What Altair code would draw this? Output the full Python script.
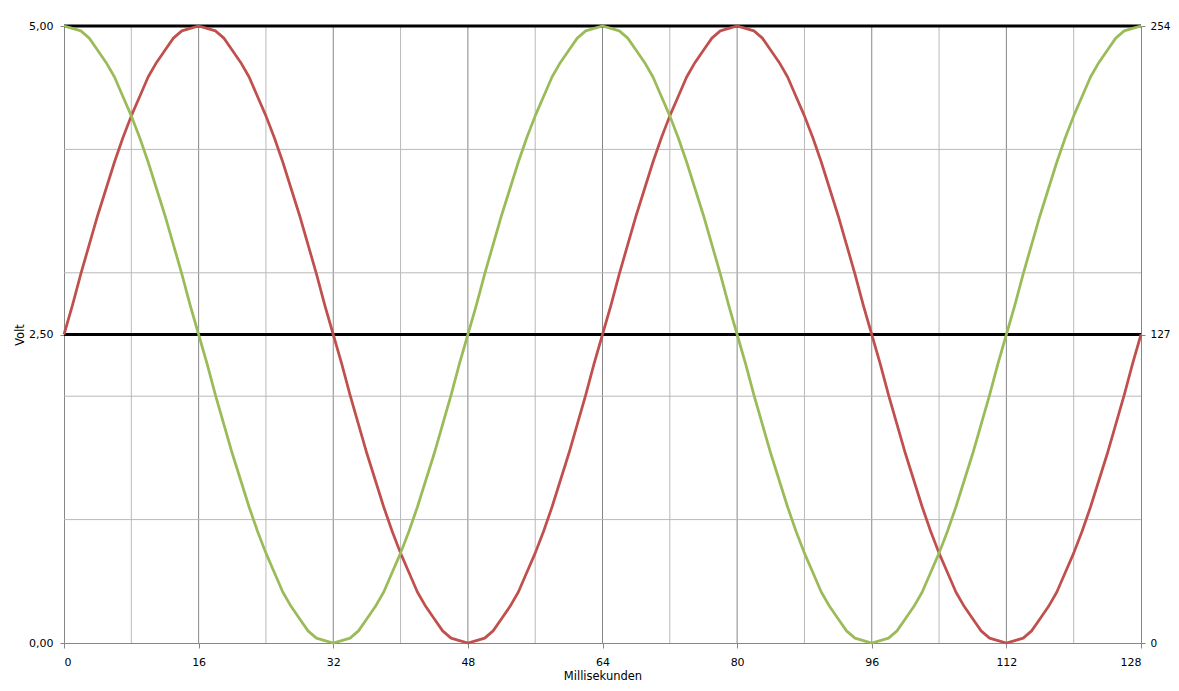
import altair as alt
import pandas as pd

# ---- data (values in 8-bit units, 0..254 == 0..5 V) ----
ms = list(range(129))

red_bytes = [
    127, 139, 152, 164, 176, 187, 198, 208, 217, 225, 233, 239, 244, 249, 252, 253,
    254, 253, 252, 249, 244, 239, 233, 225, 217, 208, 198, 187, 176, 164, 152, 139,
    127, 115, 102, 90, 78, 67, 56, 46, 37, 29, 21, 15, 10, 5, 2, 1,
    0, 1, 2, 5, 10, 15, 21, 29, 37, 46, 56, 67, 78, 90, 102, 115,
    127, 139, 152, 164, 176, 187, 198, 208, 217, 225, 233, 239, 244, 249, 252, 253,
    254, 253, 252, 249, 244, 239, 233, 225, 217, 208, 198, 187, 176, 164, 152, 139,
    127, 115, 102, 90, 78, 67, 56, 46, 37, 29, 21, 15, 10, 5, 2, 1,
    0, 1, 2, 5, 10, 15, 21, 29, 37, 46, 56, 67, 78, 90, 102, 115,
    127,
]

green_bytes = [
    254, 253, 252, 249, 244, 239, 233, 225, 217, 208, 198, 187, 176, 164, 152, 139,
    127, 115, 102, 90, 78, 67, 56, 46, 37, 29, 21, 15, 10, 5, 2, 1,
    0, 1, 2, 5, 10, 15, 21, 29, 37, 46, 56, 67, 78, 90, 102, 115,
    127, 139, 152, 164, 176, 187, 198, 208, 217, 225, 233, 239, 244, 249, 252, 253,
    254, 253, 252, 249, 244, 239, 233, 225, 217, 208, 198, 187, 176, 164, 152, 139,
    127, 115, 102, 90, 78, 67, 56, 46, 37, 29, 21, 15, 10, 5, 2, 1,
    0, 1, 2, 5, 10, 15, 21, 29, 37, 46, 56, 67, 78, 90, 102, 115,
    127, 139, 152, 164, 176, 187, 198, 208, 217, 225, 233, 239, 244, 249, 252, 253,
    254,
]

series_names = ["Sinus", "Kosinus"]
x_ticks = [0, 16, 32, 48, 64, 80, 96, 112, 128]
x_minor_grid = [8, 24, 40, 56, 72, 88, 104, 120]
x_major_grid = [16, 32, 48, 64, 80, 96, 112]
volt_grid = [1, 2, 3, 4]
left_ticks = [0, 127, 254]
right_ticks = [0, 127, 254]
ref_lines = [127, 254]
FULL = 254

df = pd.DataFrame({
    "ms": ms + ms,
    "wert": red_bytes + green_bytes,
    "serie": [series_names[0]] * len(ms) + [series_names[1]] * len(ms),
})

FONT = "DejaVu Sans"
GRID_MAJOR = "#868686"
GRID_MINOR = "#B9B9B9"

xs = alt.Scale(domain=[0, 128], nice=False, zero=False)
ys = alt.Scale(domain=[0, FULL], nice=False, zero=False)

X_AXIS = alt.Axis(
    values=x_ticks, grid=False, title="Millisekunden",
    tickSize=5, labelPadding=8,
    titleY=36, titleBaseline="alphabetic", titleAnchor="middle",
)
Y_AXIS = alt.Axis(
    values=left_ticks, grid=False, title="Volt",
    labelExpr="replace(format(datum.value * 5 / 254, '.2f'), '.', ',')",
    tickSize=4, labelPadding=7,
    titleX=-41, titleY=308.5, titleAngle=270,
    titleBaseline="alphabetic", titleAlign="center",
)

minor_v = alt.Chart(pd.DataFrame({"ms": x_minor_grid})).mark_rule(
    color=GRID_MINOR, strokeWidth=1
).encode(x=alt.X("ms:Q", scale=xs, axis=X_AXIS))

major_v = alt.Chart(pd.DataFrame({"ms": x_major_grid})).mark_rule(
    color=GRID_MAJOR, strokeWidth=1
).encode(x=alt.X("ms:Q", scale=xs, axis=X_AXIS))

minor_h = alt.Chart(pd.DataFrame({"wert": [v * FULL / 5 for v in volt_grid]})).mark_rule(
    color=GRID_MINOR, strokeWidth=1
).encode(y=alt.Y("wert:Q", scale=ys, axis=Y_AXIS))

refs = alt.Chart(pd.DataFrame({"wert": ref_lines})).mark_rule(
    color="black", strokeWidth=3
).encode(y=alt.Y("wert:Q", scale=ys, axis=Y_AXIS))

lines = alt.Chart(df).mark_line(strokeWidth=2.75, strokeJoin="round").encode(
    x=alt.X("ms:Q", scale=xs, axis=X_AXIS),
    y=alt.Y("wert:Q", scale=ys, axis=Y_AXIS),
    color=alt.Color(
        "serie:N",
        scale=alt.Scale(domain=series_names, range=["#C0504D", "#9BBB59"]),
        legend=None,
    ),
    order=alt.Order("ms:Q"),
)

inner = alt.layer(minor_v, major_v, minor_h, refs, lines)

right = alt.Chart(pd.DataFrame({"b": right_ticks})).mark_point(opacity=0).encode(
    y=alt.Y(
        "b:Q", scale=ys,
        axis=alt.Axis(
            orient="right", values=right_ticks, format="d", grid=False,
            title=None, tickSize=4, labelPadding=5, labelFontSize=10.5,
        ),
    ),
)

chart = alt.layer(inner, right).resolve_scale(y="independent").properties(
    width=1077,
    height=617,
    autosize="none",
    padding={"left": 56, "top": 18, "right": 30, "bottom": 40},
).configure_view(stroke=None).configure_axis(
    labelFont=FONT, labelFontSize=11, labelColor="black",
    titleFont=FONT, titleFontSize=11.5, titleColor="black", titleFontWeight="normal",
    domainColor=GRID_MAJOR, tickColor=GRID_MAJOR, domainWidth=1, tickWidth=1,
)

chart.save("out.html", embed_options={"renderer": "svg", "actions": False})
